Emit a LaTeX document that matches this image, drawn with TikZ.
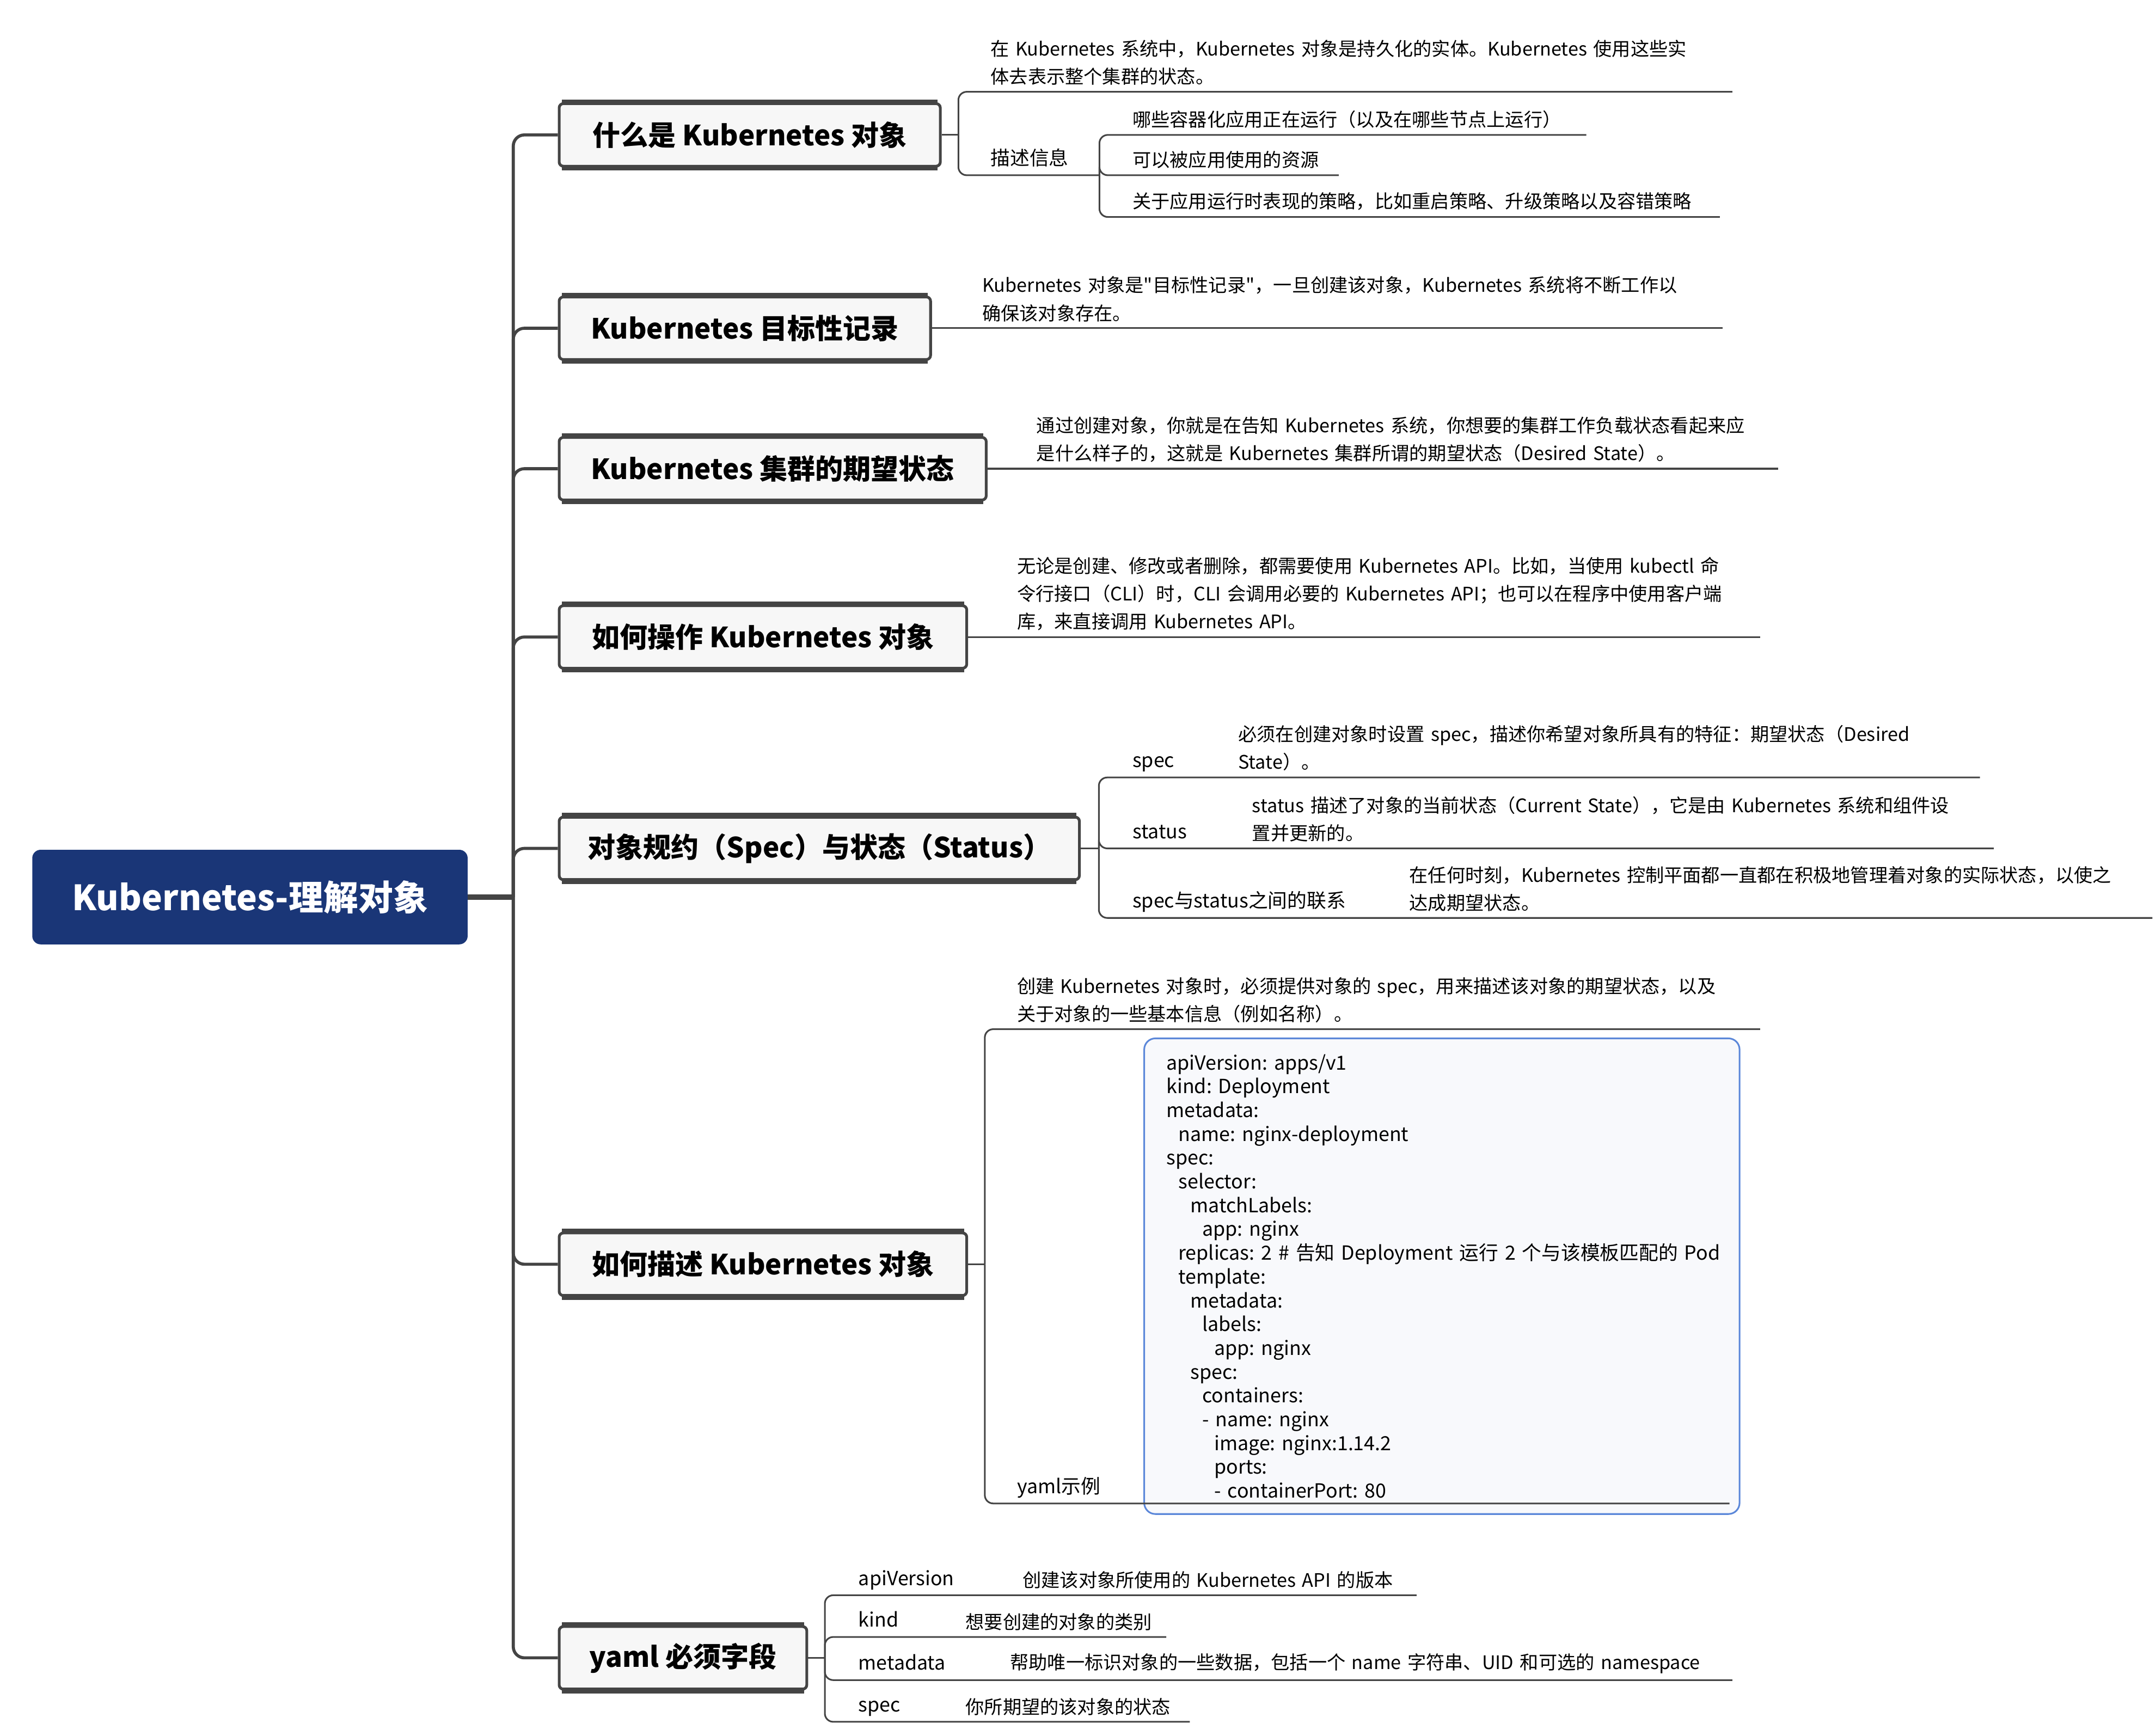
\documentclass[tikz,border=0pt]{standalone}
\usepackage{fontspec}
\setmainfont{Noto Sans CJK SC}[Ligatures=TeXOff]
\frenchspacing
\definecolor{rootblue}{HTML}{1A3677}
\definecolor{linegray}{HTML}{444444}
\definecolor{topicfill}{HTML}{F7F7F7}
\definecolor{yamlblue}{HTML}{5B87D9}
\definecolor{yamlfill}{HTML}{F8F9FC}
\newlength\yamlstep
\setlength\yamlstep{8.6pt}
\newcommand{\yi}[1]{\hspace*{#1\yamlstep}}
\tikzset{
  root/.style={fill=rootblue, rounded corners=6pt, text=white, anchor=west,
    minimum width=313pt, minimum height=68pt, font=\fontsize{25}{30}\selectfont\bfseries},
  topic/.style={draw=linegray, line width=2pt, rounded corners=3pt, fill=topicfill,
    anchor=west, minimum height=45pt, inner sep=0pt, font=\fontsize{20}{24}\selectfont\bfseries},
  desc/.style={anchor=south west, inner xsep=0pt, inner ysep=4.5pt, align=left,
    font=\fontsize{13.4}{20}\selectfont},
  lab/.style={desc, text depth=2.5pt, font=\fontsize{14}{20}\selectfont},
  yamlbox/.style={draw=yamlblue, fill=yamlfill, line width=1.2pt, rounded corners=8pt,
    anchor=north west, minimum width=428pt, minimum height=342pt, text width=396pt,
    inner xsep=16pt, align=left, font=\fontsize{14}{17.1}\selectfont},
  trunk/.style={draw=linegray, line width=2.2pt, rounded corners=8pt},
  branch/.style={draw=linegray, line width=1.2pt, rounded corners=6pt}
}
\begin{document}
\begin{tikzpicture}[x=1pt, y=-1pt]
  \useasboundingbox (0,0) rectangle (1550,1248);

  %% root and topics
  \node[root] (root) at (23,645) {Kubernetes-理解对象};
  \node[topic, minimum width=274pt] (t1) at (401,97) {什么是 Kubernetes 对象};
  \node[topic, minimum width=267pt] (t2) at (401,236) {Kubernetes 目标性记录};
  \node[topic, minimum width=307pt] (t3) at (401,337) {Kubernetes 集群的期望状态};
  \node[topic, minimum width=293pt] (t4) at (401,458) {如何操作 Kubernetes 对象};
  \node[topic, minimum width=374pt] (t5) at (401,610) {对象规约（Spec）与状态（Status）};
  \node[topic, minimum width=293pt] (t6) at (401,909) {如何描述 Kubernetes 对象};
  \node[topic, minimum width=178pt] (t7) at (401,1192) {yaml 必须字段};

  %% trunk
  \coordinate (trunk) at (369,645);
  \draw[trunk, line width=3.8pt] (root.east) -- (trunk);
  \foreach \i in {1,...,7} {
    \draw[trunk] (trunk) |- (t\i.west);
    \draw[linegray, line width=4pt] ([xshift=3pt]t\i.north west) -- ([xshift=-3pt]t\i.north east);
    \draw[linegray, line width=4pt] ([xshift=3pt]t\i.south west) -- ([xshift=-3pt]t\i.south east);
  }

  %% what is an object
  \coordinate (b1) at (689,97);
  \node[desc, text width=533pt] (c11) at (712,66)
    {在 Kubernetes 系统中，Kubernetes 对象是持久化的实体。Kubernetes 使用这些实\\体去表示整个集群的状态。};
  \node[lab, text width=78pt] (c12) at (712,126) {描述信息};
  \node[desc, text width=326pt] (c121) at (814,97) {哪些容器化应用正在运行（以及在哪些节点上运行）};
  \node[desc, text width=148pt] (c122) at (814,126) {可以被应用使用的资源};
  \node[desc, text width=422pt] (c123) at (814,156) {关于应用运行时表现的策略，比如重启策略、升级策略以及容错策略};
  \draw[branch] (t1.east) -- (b1);
  \draw[branch] (b1) |- (c11.south east);
  \draw[branch] (b1) |- (c12.south east);
  \foreach \c in {c121,c122,c123}
    \draw[branch] (c12.south east) |- (\c.south east);

  %% record of intent
  \node[desc, text width=532pt] (c21) at (706,236)
    {Kubernetes 对象是"目标性记录"，一旦创建该对象，Kubernetes 系统将不断工作以\\确保该对象存在。};
  \draw[branch] (t2.east) -- (c21.south east);

  %% desired state
  \node[desc, text width=533pt] (c31) at (745,337)
    {通过创建对象，你就是在告知 Kubernetes 系统，你想要的集群工作负载状态看起来应\\是什么样子的，这就是 Kubernetes 集群所谓的期望状态（Desired State）。};
  \draw[branch] (t3.east) -- (c31.south east);

  %% working with objects
  \node[desc, text width=534pt] (c41) at (731,458)
    {无论是创建、修改或者删除，都需要使用 Kubernetes API。比如，当使用 kubectl 命\\令行接口（CLI）时，CLI 会调用必要的 Kubernetes API；也可以在程序中使用客户端\\库，来直接调用 Kubernetes API。};
  \draw[branch] (t4.east) -- (c41.south east);

  %% spec and status
  \coordinate (b5) at (790,610);
  \node[lab] (c51) at (814,559) {spec};
  \node[desc, text width=533pt] (c51d) at (890,559)
    {必须在创建对象时设置 spec，描述你希望对象所具有的特征：期望状态（Desired\\State）。};
  \node[lab] (c52) at (814,610) {status};
  \node[desc, text width=533pt] (c52d) at (900,610)
    {status 描述了对象的当前状态（Current State），它是由 Kubernetes 系统和组件设\\置并更新的。};
  \node[lab] (c53) at (814,660) {spec与status之间的联系};
  \node[desc, text width=534pt] (c53d) at (1013,660)
    {在任何时刻，Kubernetes 控制平面都一直都在积极地管理着对象的实际状态，以使之\\达成期望状态。};
  \draw[branch] (t5.east) -- (b5);
  \foreach \c in {c51,c52,c53}
    \draw[branch] (b5) |- (\c.south east) -- (\c d.south east);

  %% describing an object
  \coordinate (b6) at (708,909);
  \node[desc, text width=534pt] (c61) at (731,740)
    {创建 Kubernetes 对象时，必须提供对象的 spec，用来描述该对象的期望状态，以及\\关于对象的一些基本信息（例如名称）。};
  \node[yamlbox] (ybox) at (822,746) {%
    apiVersion: apps/v1\\
    kind: Deployment\\
    metadata:\\
    \yi{1}name: nginx-deployment\\
    spec:\\
    \yi{1}selector:\\
    \yi{2}matchLabels:\\
    \yi{3}app: nginx\\
    \yi{1}\mbox{replicas: 2 \# 告知 Deployment 运行 2 个与该模板匹配的 Pod}\\
    \yi{1}template:\\
    \yi{2}metadata:\\
    \yi{3}labels:\\
    \yi{4}app: nginx\\
    \yi{2}spec:\\
    \yi{3}containers:\\
    \yi{3}- name: nginx\\
    \yi{4}image: nginx:1.14.2\\
    \yi{4}ports:\\
    \yi{4}- containerPort: 80};
  \node[lab, text width=512pt] (c62) at (731,1081) {yaml示例};
  \draw[branch] (t6.east) -- (b6);
  \draw[branch] (b6) |- (c61.south east);
  \draw[branch] (b6) |- (c62.south east);

  %% required fields
  \coordinate (b7) at (593,1192);
  \node[lab] (c71) at (617,1147) {apiVersion};
  \node[desc, text width=283pt] (c71d) at (735,1147) {创建该对象所使用的 Kubernetes API 的版本};
  \node[lab] (c72) at (617,1177) {kind};
  \node[desc, text width=144pt] (c72d) at (694,1177) {想要创建的对象的类别};
  \node[lab] (c73) at (617,1208) {metadata};
  \node[desc, text width=519pt] (c73d) at (726,1208) {帮助唯一标识对象的一些数据，包括一个 name 字符串、UID 和可选的 namespace};
  \node[lab] (c74) at (617,1238) {spec};
  \node[desc, text width=161pt] (c74d) at (694,1238) {你所期望的该对象的状态};
  \draw[branch] (t7.east) -- (b7);
  \foreach \c in {c71,c72,c73,c74}
    \draw[branch] (b7) |- (\c.south east) -- (\c d.south east);
\end{tikzpicture}
\end{document}
